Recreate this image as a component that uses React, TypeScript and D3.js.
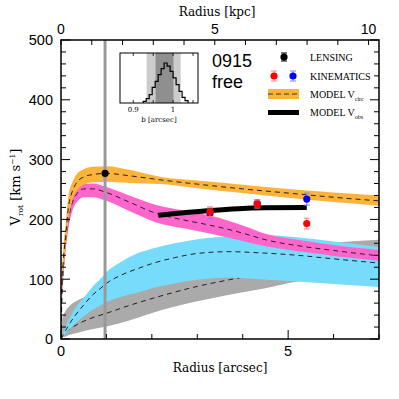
import React from 'react';
import * as d3 from 'd3';

// ---------- data ----------
const KPC_PER_ARCSEC = 1.477;

const grayR = [0, 0.03, 0.1, 0.2, 0.35, 0.6, 1.0, 1.5, 2.2, 3.0, 3.7, 4.5, 5.2, 6.0, 7.0];
const grayMid = [0, 5, 11, 17, 24, 33, 43, 56, 72, 88, 99, 110, 118, 126, 134];
const grayHi = [0, 35, 47, 56, 64, 72, 81, 88, 97, 107, 120, 140, 155, 161, 166];
const grayLo = [0, 2, 4, 7, 10, 15, 21, 31, 48, 63, 74, 85, 96, 102, 108];

const cyanR = [0, 0.1, 0.2, 0.3, 0.5, 0.7, 0.86, 1.0, 1.3, 1.7, 2.0, 2.5, 3.0, 3.7, 4.4, 5.2, 6.0, 7.0];
const cyanMid = [0, 14, 27, 38, 57, 74, 84, 93, 106, 118, 126, 136, 143, 146, 144, 140, 134, 127];
const cyanHi = [0, 20, 36, 50, 69, 88, 100, 112, 128, 144, 151, 160, 167, 172, 174, 170, 163, 154];
const cyanLo = [0, 9, 17, 25, 38, 49, 56, 62, 70, 78, 85, 93, 99, 103, 100, 96, 92, 87];

const pinkR = [0, 0.02, 0.05, 0.1, 0.16, 0.25, 0.35, 0.5, 0.7, 1.0, 1.5, 2.1, 2.7, 3.3, 4.0, 4.5, 5.4, 6.0, 7.0];
const pinkMid = [0, 70, 115, 160, 198, 228, 243, 251, 251, 245, 229, 210, 199, 190, 177, 166, 154, 148, 139];
const pinkHi = [0, 80, 128, 172, 210, 240, 253, 259, 260, 254, 240, 224, 215, 206, 190, 176, 164, 157, 149];
const pinkLo = [0, 60, 100, 145, 183, 214, 229, 237, 237, 231, 214, 195, 185, 176, 164, 155, 145, 139, 131];

const orangeR = [0, 0.02, 0.05, 0.1, 0.16, 0.25, 0.35, 0.5, 0.7, 1.0, 1.5, 2.2, 3.0, 4.0, 5.0, 6.0, 7.0];
const orangeMid = [0, 85, 130, 170, 218, 247, 262, 271, 275, 277, 273, 266, 259, 251, 244, 237, 231];
const orangeHi = [0, 100, 148, 190, 238, 262, 276, 284, 288, 289, 283, 271, 265, 258, 251, 245, 240];
const orangeLo = [0, 70, 112, 150, 198, 232, 248, 258, 262, 263, 261, 259, 252, 244, 236, 229, 223];

const obsR = [2.14, 2.7, 3.3, 3.9, 4.5, 5.41];
const obsV = [207, 211, 215, 218, 219.5, 220];

const lensR = [0.97];
const lensV = [277];
const lensErr = [3];

const kinBlueR = [3.28, 4.32, 5.41];
const kinBlueV = [210, 227, 234];
const kinBlueErr = [9, 6, 10];
const kinRedR = [3.28, 4.32, 5.41];
const kinRedV = [213, 225, 193];
const kinRedErr = [8, 6, 9];

const bLine = 0.97;

// inset histogram of b
const histEdges = [0.925, 0.9325, 0.94, 0.9475, 0.955, 0.9625, 0.97, 0.9775, 0.985, 0.9925, 1.0, 1.0075, 1.015, 1.0225, 1.03, 1.0375];
const histCounts = [0.04, 0.11, 0.21, 0.39, 0.54, 0.71, 0.86, 1.0, 0.92, 0.79, 0.63, 0.46, 0.29, 0.14, 0.06];
const band2 = [0.9335, 1.019];
const band1 = [0.956, 1.001];

const yTicksMajor = [0, 100, 200, 300, 400, 500];
const xTicksMajor = [0, 5];
const kpcTicksMajor = [0, 5, 10];

const serif = '"DejaVu Serif", serif';
const sans = '"Liberation Sans", Arial, sans-serif';
const lserif = '"Liberation Serif", "Times New Roman", serif';

export default function App() {
  const x = d3.scaleLinear().domain([0, 7]).range([61, 379]);
  const y = d3.scaleLinear().domain([0, 500]).range([339, 40]);
  const xk = d3.scaleLinear().domain([0, 7 * KPC_PER_ARCSEC]).range([61, 379]);
  const [L, R] = x.range();
  const [B, T] = y.range();

  const areaOf = (rs: number[], lo: number[], hi: number[]) =>
    d3.area<number>()
      .x((_, i) => x(rs[i]))
      .y0((_, i) => y(lo[i]))
      .y1((_, i) => y(hi[i]))
      .curve(d3.curveMonotoneX)(rs) || '';
  const lineOf = (rs: number[], v: number[]) =>
    d3.line<number>()
      .x((_, i) => x(rs[i]))
      .y((_, i) => y(v[i]))
      .curve(d3.curveMonotoneX)(rs) || '';

  const bands = [
    { r: grayR, lo: grayLo, hi: grayHi, mid: grayMid, fill: '#aaaaaa' },
    { r: cyanR, lo: cyanLo, hi: cyanHi, mid: cyanMid, fill: '#77dcfb' },
    { r: pinkR, lo: pinkLo, hi: pinkHi, mid: pinkMid, fill: '#ff66cc' },
    { r: orangeR, lo: orangeLo, hi: orangeHi, mid: orangeMid, fill: '#fbb33a' },
  ];

  const yMinor = d3.range(0, 501, 20);
  const xMinor = d3.range(0, 7.01, 1);
  const kMinor = d3.range(0, 10.4, 1);

  // inset
  const ix = d3.scaleLinear().domain([0.8667, 1.0625]).range([120, 198]);
  const iy = d3.scaleLinear().domain([0, 1.25]).range([103, 53]);
  const histPts: [number, number][] = histEdges.map((e, i) => [e, i < histCounts.length ? histCounts[i] : 0]);
  const histPath = d3.line<[number, number]>()
    .x(d => ix(d[0]))
    .y(d => iy(d[1]))
    .curve(d3.curveStepAfter)([[histEdges[0], 0], ...histPts]) || '';

  const errPoint = (cx: number, cy: number, e: number, fill: string, errColor: string, key: string) => (
    <g key={key}>
      <line x1={cx} x2={cx} y1={cy - e} y2={cy + e} stroke={errColor} strokeWidth={1} />
      <line x1={cx - 3} x2={cx + 3} y1={cy - e} y2={cy - e} stroke={errColor} strokeWidth={1} />
      <line x1={cx - 3} x2={cx + 3} y1={cy + e} y2={cy + e} stroke={errColor} strokeWidth={1} />
      <circle cx={cx} cy={cy} r={3.6} fill={fill} />
    </g>
  );

  return (
    <svg width={399} height={399} style={{ position: 'absolute', left: 0, top: 0, background: '#fff' }}>
      <defs>
        <clipPath id="plot"><rect x={L} y={T} width={R - L} height={B - T} /></clipPath>
      </defs>
      <g clipPath="url(#plot)">
        {bands.map((b, i) => (
          <g key={i}>
            <path d={areaOf(b.r, b.lo, b.hi)} fill={b.fill} stroke="none" />
            <path d={lineOf(b.r, b.mid)} fill="none" stroke="#222" strokeWidth={1} strokeDasharray="5,4" />
          </g>
        ))}
        <line x1={x(bLine)} x2={x(bLine)} y1={T} y2={B} stroke="#999" strokeWidth={3} />
        <path d={lineOf(obsR, obsV)} fill="none" stroke="#000" strokeWidth={5} />
        {lensR.map((r, i) => errPoint(x(r), y(lensV[i]), y(lensV[i] - lensErr[i]) - y(lensV[i]), '#000', '#000', 'l' + i))}
        {kinBlueR.map((r, i) => errPoint(x(r), y(kinBlueV[i]), y(kinBlueV[i] - kinBlueErr[i]) - y(kinBlueV[i]), '#0000ff', '#8080ff', 'b' + i))}
        {kinRedR.map((r, i) => errPoint(x(r), y(kinRedV[i]), y(kinRedV[i] - kinRedErr[i]) - y(kinRedV[i]), '#ff0000', '#ff8080', 'r' + i))}
      </g>

      {/* frame */}
      <rect x={L} y={T} width={R - L} height={B - T} fill="none" stroke="#000" strokeWidth={1.5} />
      {/* y ticks */}
      {yMinor.map(v => {
        const len = v % 100 === 0 ? 9 : 5;
        return (
          <g key={'y' + v}>
            <line x1={L} x2={L + len} y1={y(v)} y2={y(v)} stroke="#000" strokeWidth={1} />
            <line x1={R} x2={R - len} y1={y(v)} y2={y(v)} stroke="#000" strokeWidth={1} />
          </g>
        );
      })}
      {yTicksMajor.map(v => (
        <text key={'yl' + v} x={53} y={y(v) + 5.3} textAnchor="end" fontFamily={sans} fontSize={14.5}>{v}</text>
      ))}
      {/* x ticks */}
      {xMinor.map(v => {
        const len = v % 5 === 0 ? 9 : 5;
        return <line key={'x' + v} x1={x(v)} x2={x(v)} y1={B} y2={B - len} stroke="#000" strokeWidth={1} />;
      })}
      {xTicksMajor.map(v => (
        <text key={'xl' + v} x={x(v)} y={356} textAnchor="middle" fontFamily={sans} fontSize={14.5}>{v}</text>
      ))}
      {/* top kpc ticks */}
      {kMinor.map(v => (
        <line key={'k' + v} x1={xk(v)} x2={xk(v)} y1={T} y2={T + 5} stroke="#000" strokeWidth={1} />
      ))}
      {kpcTicksMajor.map(v => (
        <text key={'kl' + v} x={xk(v)} y={34} textAnchor="middle" fontFamily={sans} fontSize={14}>{v}</text>
      ))}

      {/* axis labels */}
      <text x={217} y={16} textAnchor="middle" fontFamily={serif} fontSize={12}>Radius [kpc]</text>
      <text x={220} y={372} textAnchor="middle" fontFamily={serif} fontSize={12}>Radius [arcsec]</text>
      <text transform="translate(20,187) rotate(-90)" textAnchor="middle" fontFamily={serif} fontSize={13}>
        V<tspan fontSize={7.5} dy={3}>rot</tspan><tspan dy={-3}> [km s</tspan><tspan fontSize={7.5} dy={-5}>−1</tspan><tspan dy={5}>]</tspan>
      </text>

      {/* inset */}
      <rect x={ix(band2[0])} y={53} width={ix(band2[1]) - ix(band2[0])} height={50} fill="#cccccc" />
      <rect x={ix(band1[0])} y={53} width={ix(band1[1]) - ix(band1[0])} height={50} fill="#8f8f8f" />
      <path d={histPath} fill="none" stroke="#000" strokeWidth={1.2} />
      <rect x={120} y={53} width={78} height={50} fill="none" stroke="#000" strokeWidth={1} />
      {[0.9, 0.95, 1.0, 1.05].map(v => (
        <g key={'it' + v}>
          <line x1={ix(v)} x2={ix(v)} y1={53} y2={56} stroke="#000" strokeWidth={0.8} />
          <line x1={ix(v)} x2={ix(v)} y1={103} y2={100} stroke="#000" strokeWidth={0.8} />
        </g>
      ))}
      <text x={ix(0.9)} y={112} textAnchor="middle" fontFamily={serif} fontSize={7}>0.9</text>
      <text x={ix(1.0)} y={112} textAnchor="middle" fontFamily={serif} fontSize={7}>1</text>
      <text x={159} y={122} textAnchor="middle" fontFamily={serif} fontSize={7}>b [arcsec]</text>

      {/* label */}
      <text x={212} y={67} fontFamily={sans} fontSize={18}>0915</text>
      <text x={212} y={88} fontFamily={sans} fontSize={18}>free</text>

      {/* legend */}
      {errPoint(284, 57, 4, '#000', '#000', 'leg1')}
      {errPoint(274, 76, 5, '#ff0000', '#ff8080', 'leg2')}
      {errPoint(293, 76, 5, '#0000ff', '#8080ff', 'leg3')}
      <rect x={268} y={89} width={31} height={10} fill="#fbb33a" />
      <line x1={268} x2={299} y1={94} y2={94} stroke="#333" strokeWidth={1} strokeDasharray="5,3" />
      <rect x={268} y={110} width={31} height={5} fill="#000" />
      <g fontFamily={lserif} fontSize={10}>
        <text x={310} y={61}>LENSING</text>
        <text x={310} y={80}>KINEMATICS</text>
        <text x={310} y={98}>MODEL V<tspan fontSize={6} dy={2.5}>circ</tspan></text>
        <text x={310} y={116}>MODEL V<tspan fontSize={6} dy={2.5}>obs</tspan></text>
      </g>
    </svg>
  );
}
